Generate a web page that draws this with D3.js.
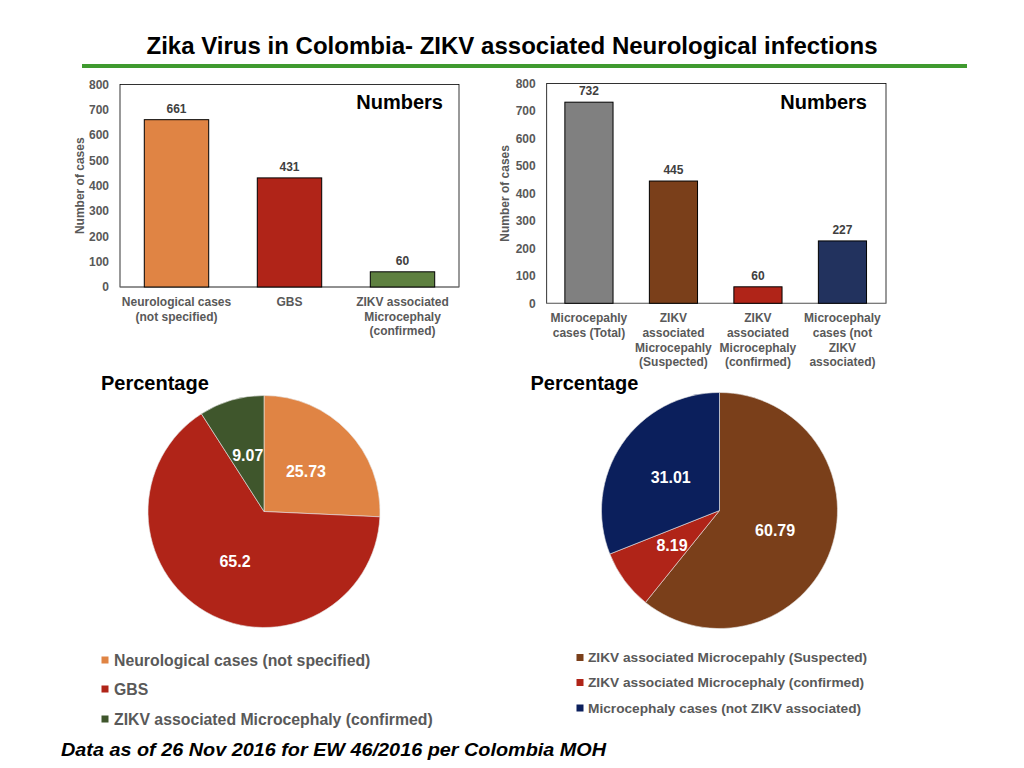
<!DOCTYPE html>
<html>
<head>
<meta charset="utf-8">
<script src="https://cdn.jsdelivr.net/npm/d3@7/dist/d3.min.js"></script>
<style>
  body { margin: 0; background: #fff; }
  svg { display: block; font-family: "Liberation Sans", Arial, sans-serif; }
  .tick text { fill: #595959; font-weight: bold; font-size: 12px; }
</style>
</head>
<body>
<svg id="chart" width="1024" height="768"></svg>
<script>
// data
var bar1Labels = [["Neurological cases", "(not specified)"], ["GBS"], ["ZIKV associated", "Microcephaly", "(confirmed)"]];
var bar1Values = [661, 431, 60];
var bar1Colors = ["#e08444", "#b02418", "#5e8040"];

var bar2Labels = [["Microcepahly", "cases (Total)"], ["ZIKV", "associated", "Microcepahly", "(Suspected)"],
                  ["ZIKV", "associated", "Microcephaly", "(confirmed)"], ["Microcephaly", "cases (not", "ZIKV", "associated)"]];
var bar2Values = [732, 445, 60, 227];
var bar2Colors = ["#808080", "#7a3f1a", "#b02418", "#22325e"];

var yTicks = [0, 100, 200, 300, 400, 500, 600, 700, 800];

var pie1Labels = ["Neurological cases (not specified)", "GBS", "ZIKV associated Microcephaly (confirmed)"];
var pie1Values = [25.73, 65.2, 9.07];
var pie1Colors = ["#e08444", "#b02418", "#3f562c"];

var pie2Labels = ["ZIKV associated Microcepahly (Suspected)", "ZIKV associated Microcephaly (confirmed)", "Microcephaly cases (not ZIKV associated)"];
var pie2Values = [60.79, 8.19, 31.01];
var pie2Colors = ["#7a3f1a", "#b02418", "#0b1f5c"];

var svg = d3.select("#chart");

// title + green rule
svg.append("text")
  .attr("x", 512).attr("y", 54)
  .attr("text-anchor", "middle")
  .attr("font-size", 24).attr("font-weight", "bold")
  .attr("textLength", 731).attr("lengthAdjust", "spacingAndGlyphs")
  .text("Zika Virus in Colombia- ZIKV associated Neurological infections");

svg.append("rect")
  .attr("x", 82).attr("y", 64).attr("width", 885).attr("height", 4)
  .attr("fill", "#3f9a2f");

function barChart(o) {
  var g = svg.append("g");
  var x = d3.scaleBand().domain(d3.range(o.values.length))
    .range([o.left, o.right]).paddingInner(0.43).paddingOuter(0.215);
  var y = d3.scaleLinear().domain([0, 800]).range([o.bottom, o.top]);

  g.append("rect")
    .attr("x", o.left).attr("y", o.top)
    .attr("width", o.boxRight - o.left).attr("height", o.bottom - o.top)
    .attr("fill", "none").attr("stroke", "#000").attr("stroke-width", 0.8);

  var ax = g.append("g")
    .attr("transform", "translate(" + o.left + ",0)")
    .call(d3.axisLeft(y).tickValues(yTicks).tickSize(0).tickPadding(11));
  ax.select(".domain").remove();

  g.append("line")
    .attr("x1", o.left).attr("x2", o.boxRight)
    .attr("y1", o.bottom).attr("y2", o.bottom)
    .attr("stroke", "#888").attr("stroke-width", 1);

  g.append("text")
    .attr("transform", "translate(" + o.yLabelX + "," + ((o.top + o.bottom) / 2) + ") rotate(-90)")
    .attr("text-anchor", "middle").attr("dy", "0.35em")
    .attr("font-size", 12).attr("font-weight", "bold").attr("fill", "#595959")
    .text("Number of cases");

  g.selectAll(".bar").data(o.values).enter().append("rect")
    .attr("class", "bar")
    .attr("x", function(d, i) { return x(i); })
    .attr("y", function(d) { return y(d); })
    .attr("width", x.bandwidth())
    .attr("height", function(d) { return o.bottom - y(d); })
    .attr("fill", function(d, i) { return o.colors[i]; })
    .attr("stroke", "#000").attr("stroke-width", 1);

  g.selectAll(".val").data(o.values).enter().append("text")
    .attr("class", "val")
    .attr("x", function(d, i) { return x(i) + x.bandwidth() / 2; })
    .attr("y", function(d) { return y(d) - 7; })
    .attr("text-anchor", "middle")
    .attr("font-size", 12).attr("font-weight", "bold").attr("fill", "#404040")
    .text(function(d) { return d; });

  g.selectAll(".cat").data(o.labels).enter().append("text")
    .attr("class", "cat")
    .attr("x", function(d, i) { return x(i) + x.bandwidth() / 2; })
    .attr("y", o.bottom + 19)
    .attr("text-anchor", "middle")
    .attr("font-size", 12).attr("font-weight", "bold").attr("fill", "#595959")
    .each(function(lines) {
      var t = d3.select(this), cx = t.attr("x");
      lines.forEach(function(l, k) {
        t.append("tspan").attr("x", cx).attr("dy", k ? 14.6 : 0).text(l);
      });
    });

  g.append("text")
    .attr("x", o.numX).attr("y", 109)
    .attr("text-anchor", "end")
    .attr("font-size", 20).attr("font-weight", "bold")
    .text("Numbers");
}

barChart({ values: bar1Values, labels: bar1Labels, colors: bar1Colors,
  left: 120, right: 459, boxRight: 459, top: 84.5, bottom: 287, yLabelX: 80, numX: 443 });
barChart({ values: bar2Values, labels: bar2Labels, colors: bar2Colors,
  left: 546.7, right: 884.7, boxRight: 886, top: 83.5, bottom: 303.3, yLabelX: 505, numX: 867 });

function pieChart(o) {
  var g = svg.append("g").attr("transform", "translate(" + o.cx + "," + o.cy + ")");
  var arcs = d3.pie().sort(null)(o.values);
  var arc = d3.arc().innerRadius(0).outerRadius(o.r);

  g.selectAll("path").data(arcs).enter().append("path")
    .attr("d", arc)
    .attr("fill", function(d, i) { return o.colors[i]; })
    .attr("stroke", "#e8e8e8").attr("stroke-width", 0.6);

  g.selectAll(".pl").data(arcs).enter().append("text")
    .attr("class", "pl")
    .attr("transform", function(d) { return "translate(" + arc.centroid(d) + ")"; })
    .attr("text-anchor", "middle").attr("dy", "0.35em")
    .attr("font-size", 16).attr("font-weight", "bold").attr("fill", "#fff")
    .text(function(d) { return d.data; });

  svg.append("text")
    .attr("x", o.titleX).attr("y", 390)
    .attr("font-size", 20).attr("font-weight", "bold")
    .text("Percentage");

  var leg = svg.append("g");
  o.labels.forEach(function(l, i) {
    var yy = o.legY[i];
    leg.append("rect")
      .attr("x", o.legX).attr("y", yy - 3.5).attr("width", 7).attr("height", 7)
      .attr("fill", o.colors[i]);
    leg.append("text")
      .attr("x", o.legX + o.legGap).attr("y", yy).attr("dy", "0.36em")
      .attr("font-size", o.legSize).attr("font-weight", "bold").attr("fill", "#595959")
      .text(l);
  });
}

pieChart({ values: pie1Values, labels: pie1Labels, colors: pie1Colors,
  cx: 264, cy: 511.5, r: 116, titleX: 101,
  legX: 101.5, legGap: 12.5, legY: [660, 689, 719], legSize: 15.8 });
pieChart({ values: pie2Values, labels: pie2Labels, colors: pie2Colors,
  cx: 719.5, cy: 510.5, r: 118, titleX: 530.5,
  legX: 576.5, legGap: 11.5, legY: [657.5, 682.5, 708], legSize: 13.7 });

// footnote
svg.append("text")
  .attr("x", 61).attr("y", 756)
  .attr("font-size", 19).attr("font-weight", "bold").attr("font-style", "italic")
  .attr("textLength", 545).attr("lengthAdjust", "spacingAndGlyphs")
  .text("Data as of 26 Nov 2016 for EW 46/2016 per Colombia MOH");
</script>
</body>
</html>
